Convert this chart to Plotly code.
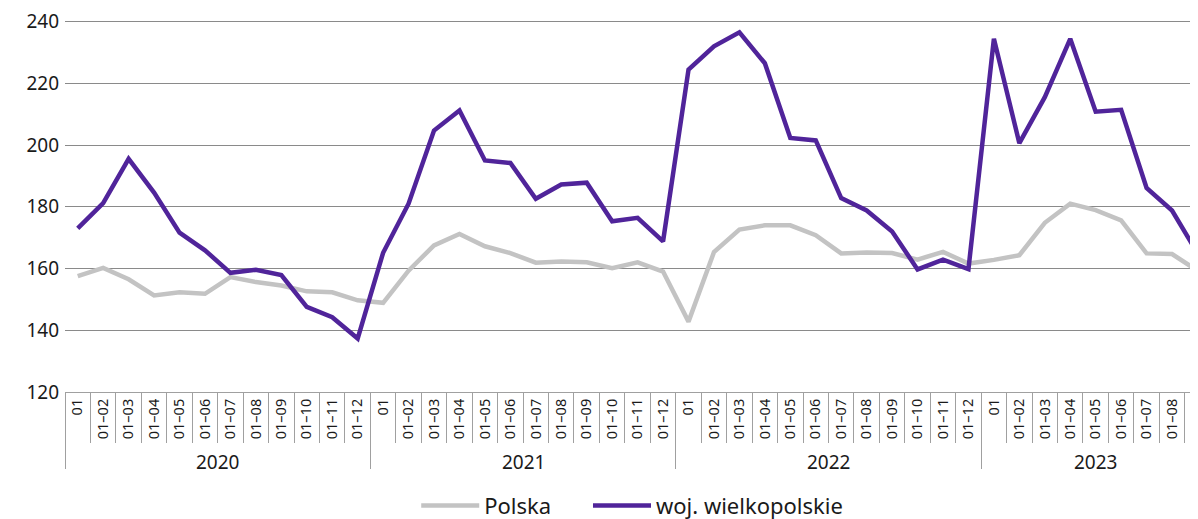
import plotly.graph_objects as go

# ---- data ----
years = ["2020", "2021", "2022", "2023"]
months_per_year = [12, 12, 12, 9]
month_labels = ["01", "01–02", "01–03", "01–04", "01–05", "01–06",
                "01–07", "01–08", "01–09", "01–10", "01–11", "01–12"]

polska = [
    157.5, 160.2, 156.5, 151.3, 152.3, 151.8, 157.2, 155.6, 154.5, 152.6, 152.3, 149.7,
    148.9, 159.3, 167.5, 171.2, 167.2, 165.0, 161.9, 162.3, 162.0, 160.1, 162.0, 159.0,
    142.8, 165.3, 172.6, 174.0, 174.0, 170.8, 164.9, 165.2, 165.0, 162.9, 165.4, 161.6,
    162.8, 164.3, 174.8, 181.0, 178.9, 175.6, 164.9, 164.7, 159.3,
]
wielkopolskie = [
    173.0, 181.2, 195.5, 184.6, 171.6, 165.9, 158.6, 159.6, 157.9, 147.6, 144.2, 137.3,
    165.1, 181.0, 204.7, 211.2, 195.0, 194.2, 182.6, 187.2, 187.8, 175.3, 176.4, 168.8,
    224.4, 232.0, 236.5, 226.5, 202.3, 201.5, 182.8, 178.8, 172.0, 159.7, 162.9, 159.8,
    234.4, 200.6, 215.5, 234.4, 210.8, 211.4, 186.1, 178.8, 165.0,
]
series_names = ["Polska", "woj. wielkopolskie"]
y_ticks = [120, 140, 160, 180, 200, 220, 240]

# ---- build category positions ----
ticktext = []
year_of = []
for y, n in zip(years, months_per_year):
    for m in month_labels[:n]:
        ticktext.append(m)
        year_of.append(y)
xs = list(range(len(ticktext)))

boundaries = [i - 0.5 for i in xs] + [xs[-1] + 0.5]
year_bounds = [-0.5]
year_centers = []
start = 0
for n in months_per_year:
    year_centers.append(start + (n - 1) / 2)
    start += n
    year_bounds.append(start - 0.5)

FONT = "Noto Sans"
TXT = "#1a1a1a"
GRAY_LINE = "#c3c3c3"
PURPLE = "#50249a"
SEP = "#a0a0a0"
XR = [-0.5, 44.02]
YR = [120, 240.5]

fig = go.Figure()
fig.add_trace(go.Scatter(x=xs, y=polska, mode="lines", name=series_names[0],
                         line=dict(color=GRAY_LINE, width=4.5), xaxis="x", yaxis="y",
                         legend="legend"))
fig.add_trace(go.Scatter(x=xs, y=wielkopolskie, mode="lines", name=series_names[1],
                         line=dict(color=PURPLE, width=4.5), xaxis="x2", yaxis="y",
                         legend="legend2"))

annotations = []
for yl, c in zip(years, year_centers):
    annotations.append(dict(x=c, y=-0.1887, xref="x", yref="paper", text=yl,
                            showarrow=False, xanchor="center", yanchor="middle",
                            font=dict(family=FONT, size=19, color=TXT)))

legend_common = dict(orientation="h", xanchor="left", y=-0.249, yanchor="top",
                     font=dict(family=FONT, size=22, color=TXT), itemwidth=58,
                     bgcolor="rgba(0,0,0,0)")

# page body has an 8px margin, so the figure is sized/offset to land on the window
fig.update_layout(
    width=1190, height=511,
    margin=dict(l=57, r=0, t=11.5, b=127, autoexpand=False),
    paper_bgcolor="white", plot_bgcolor="white",
    showlegend=True,
    legend=dict(x=0.310, **legend_common),
    legend2=dict(x=0.4616, **legend_common),
    xaxis=dict(range=XR, tickmode="array", tickvals=xs, ticktext=ticktext,
               tickangle=-90, ticks="", showgrid=False, zeroline=False,
               showline=True, linecolor=SEP, linewidth=1, automargin=False,
               tickfont=dict(family=FONT, size=14.5, color=TXT),
               minor=dict(tickmode="array", tickvals=boundaries, ticks="outside",
                          ticklen=50, tickcolor=SEP, tickwidth=1)),
    xaxis2=dict(range=XR, overlaying="x", anchor="y", side="bottom",
                tickmode="array", tickvals=year_bounds, ticks="outside",
                ticklen=76, tickcolor=SEP, tickwidth=1, showticklabels=False,
                showgrid=False, zeroline=False, showline=False, automargin=False),
    yaxis=dict(range=YR, tickmode="array", tickvals=y_ticks,
               showgrid=True, gridcolor="#8a8a8a", gridwidth=1.3, zeroline=False,
               showline=False, ticks="", ticklabelstandoff=5, automargin=False,
               tickfont=dict(family=FONT, size=19, color=TXT)),
    annotations=annotations,
)

fig.write_html("out.html")
